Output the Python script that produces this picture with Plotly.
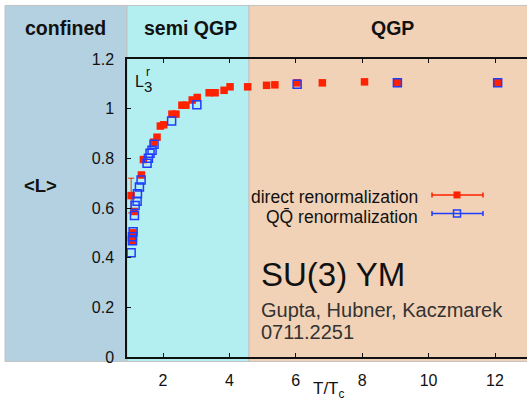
import plotly.graph_objects as go

# ---- data ----
direct_T = [1.04, 1.08, 1.10, 1.13, 1.35, 1.41, 1.72, 1.82, 1.92, 2.02, 2.27, 2.39,
            2.57, 2.69, 2.88, 3.03, 3.39, 3.57, 3.84, 4.02, 4.55, 5.12, 5.37,
            6.04, 6.80, 8.07, 9.06, 12.08]
direct_L = [0.650, 0.470, 0.500, 0.586, 0.733, 0.795, 0.865, 0.885, 0.930, 0.935, 0.978, 0.978,
            1.014, 1.014, 1.035, 1.045, 1.064, 1.064, 1.074, 1.088, 1.088, 1.094, 1.096,
            1.104, 1.104, 1.108, 1.106, 1.106]
direct_err = [0.07] + [0.0] * (len(direct_T) - 1)

qq_T = [1.04, 1.08, 1.08, 1.10, 1.14, 1.16, 1.22, 1.23, 1.29, 1.34, 1.52, 1.56,
        1.61, 1.67, 1.73, 2.26, 3.02, 6.04, 9.06, 12.08]
qq_L = [0.420, 0.468, 0.484, 0.504, 0.570, 0.610, 0.627, 0.657, 0.685, 0.713, 0.780, 0.800,
        0.820, 0.833, 0.857, 0.950, 1.016, 1.098, 1.104, 1.104]

x_ticks = [2, 4, 6, 8, 10, 12]
y_ticks = [0, 0.2, 0.4, 0.6, 0.8, 1.0, 1.2]
y_ticktext = ["0", "0.2", "0.4", "0.6", "0.8", "1", "1.2"]

regions = ["confined", "semi QGP", "QGP"]
region_colors = ["#b4d1e1", "#b3eef0", "#f1d2b6"]

FONT = "Helvetica, Arial, Liberation Sans, sans-serif"
RED = "#ff2200"
BLUE = "#1f3dff"

W, H = 527, 402
PL, PR, PT, PB = 127, 527, 58.7, 357.5


def xp(px):
    return (px - PL) / (PR - PL)


def yp(py):
    return (PB - py) / (PB - PT)


fig = go.Figure()
fig.add_trace(go.Scatter(
    x=direct_T, y=direct_L, mode="markers", name="direct renormalization",
    marker=dict(symbol="square", size=7.5, color=RED, line=dict(width=0)),
    error_y=dict(type="data", array=direct_err, color=RED, thickness=1, width=3),
    cliponaxis=False,
))
fig.add_trace(go.Scatter(
    x=qq_T, y=qq_L, mode="markers", name="QQ renormalization",
    marker=dict(symbol="square-open", size=8, color=BLUE, line=dict(width=1.5, color=BLUE)),
    cliponaxis=False,
))

shapes = []
bounds = [(5, 127), (127, 249), (249, 540)]
for (a, b), col in zip(bounds, region_colors):
    shapes.append(dict(type="rect", xref="paper", yref="paper", x0=xp(a), x1=xp(b),
                       y0=yp(362), y1=yp(5), fillcolor=col,
                       line=dict(color="#c2c2c2", width=1), layer="below"))

# legend samples
for yy, col, filled in [(195, RED, True), (213.7, BLUE, False)]:
    shapes.append(dict(type="line", xref="paper", yref="paper", x0=xp(432), x1=xp(483),
                       y0=yp(yy), y1=yp(yy), line=dict(color=col, width=1.5)))
    for cx in (432, 483):
        shapes.append(dict(type="line", xref="paper", yref="paper", x0=xp(cx), x1=xp(cx),
                           y0=yp(yy - 2.5), y1=yp(yy + 2.5), line=dict(color=col, width=1.5)))
    shapes.append(dict(type="rect", xref="paper", yref="paper", x0=xp(453.5), x1=xp(460.5),
                       y0=yp(yy + 3.5), y1=yp(yy - 3.5),
                       fillcolor=col if filled else "rgba(0,0,0,0)",
                       line=dict(color=col, width=0 if filled else 1.5)))

ann = []


def add_text(px, py, text, size, bold=False, xanchor="center", color="#111"):
    ann.append(dict(xref="paper", yref="paper", x=xp(px), y=yp(py), text=f"<b>{text}</b>" if bold else text,
                    showarrow=False, xanchor=xanchor, yanchor="middle",
                    font=dict(family=FONT, size=size, color=color)))


add_text(65.5, 28, regions[0], 19.5, bold=True)
add_text(190, 28, regions[1], 19.5, bold=True)
add_text(392, 28, regions[2], 19.5, bold=True)
add_text(40, 186, "&lt;L&gt;", 18.5, bold=True)
add_text(139, 81, "L", 16)
add_text(148, 86, "3", 15)
add_text(147.5, 72, "r", 12)
add_text(420, 197.5, "direct renormalization", 17.5, xanchor="right")
add_text(420, 217, "QQ̄ renormalization", 17.5, xanchor="right")
add_text(259, 275, "SU(3) YM", 33, xanchor="left")
add_text(259, 310, "Gupta, Hubner, Kaczmarek", 20, xanchor="left", color="#333")
add_text(259, 332, "0711.2251", 20, xanchor="left", color="#333")
add_text(329, 391, "T/T<sub>c</sub>", 17)

x0 = 2 - (163 - PL) / 33.2
x1 = x0 + (PR - PL) / 33.2

fig.update_layout(
    width=W, height=H,
    margin=dict(l=PL, r=W - PR, t=PT, b=H - PB, pad=0),
    paper_bgcolor="white", plot_bgcolor="rgba(0,0,0,0)",
    showlegend=False, shapes=shapes, annotations=ann,
    font=dict(family=FONT, color="#111"),
    xaxis=dict(range=[x0, x1], tickvals=x_ticks, ticks="inside", ticklen=4, tickwidth=1,
               tickcolor="#111", showline=True, linecolor="#111", linewidth=1.5, mirror="ticks",
               showgrid=False, zeroline=False, tickfont=dict(size=16, family=FONT, color="#111"),
               ticklabelstandoff=8),
    yaxis=dict(range=[0, 1.2], tickvals=y_ticks, ticktext=y_ticktext,
               ticks="inside", ticklen=4, tickwidth=1,
               tickcolor="#111", showline=True, linecolor="#111", linewidth=1.5,
               showgrid=False, zeroline=False, tickfont=dict(size=16, family=FONT, color="#111"),
               ticklabelstandoff=8),
)

fig.write_html("out.html")
